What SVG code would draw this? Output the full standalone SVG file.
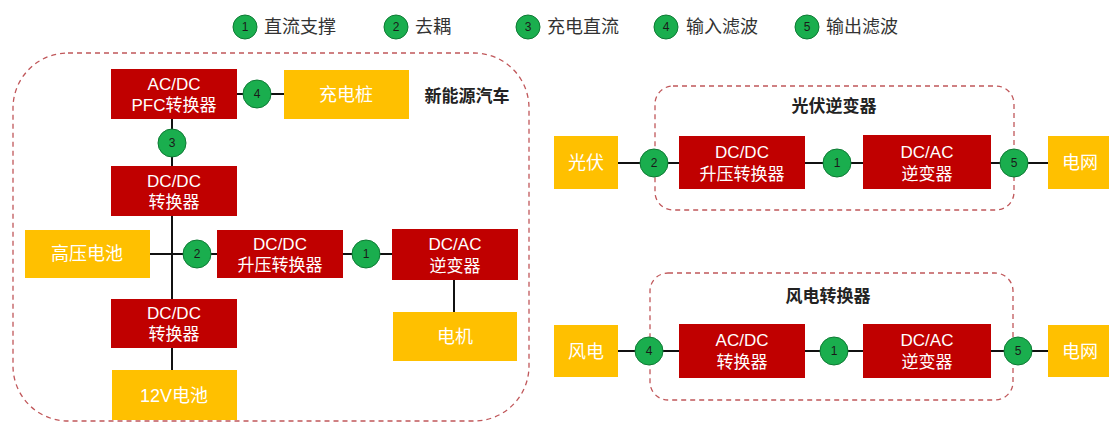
<svg xmlns="http://www.w3.org/2000/svg" width="1109" height="424" viewBox="0 0 1109 424">
<style>
text{font-family:"Liberation Sans","Noto Sans CJK SC",sans-serif}
.r{fill:#C00000}
.y{fill:#FFC000}
.bt{fill:#fff;font-size:17px;text-anchor:middle}
.yt{fill:#fff;font-size:18px;text-anchor:middle}
.c{fill:#1AAE4E;stroke:#0E7A34;stroke-width:1}
.ct{fill:#1a1a1a;font-size:12px;text-anchor:middle}
.grp{fill:none;stroke:#C0575A;stroke-width:1.3;stroke-dasharray:5,4}
.gt{fill:#222;font-size:17px;font-weight:bold;text-anchor:middle}
.lt{fill:#333;font-size:18px}
.ln{stroke:#111;stroke-width:2;fill:none}
</style>
<rect width="1109" height="424" fill="#fff"/>
<g id="legend">
<circle class="c" cx="245" cy="27" r="12"/><text class="ct" x="245" y="31">1</text><text class="lt" x="264" y="33">直流支撑</text>
<circle class="c" cx="396" cy="27" r="12"/><text class="ct" x="396" y="31">2</text><text class="lt" x="415" y="33">去耦</text>
<circle class="c" cx="528" cy="27" r="12"/><text class="ct" x="528" y="31">3</text><text class="lt" x="547" y="33">充电直流</text>
<circle class="c" cx="666" cy="27" r="12"/><text class="ct" x="666" y="31">4</text><text class="lt" x="686" y="33">输入滤波</text>
<circle class="c" cx="807" cy="27" r="12"/><text class="ct" x="807" y="31">5</text><text class="lt" x="826" y="33">输出滤波</text>
</g>
<g id="groups">
<rect class="grp" x="13" y="53" width="516" height="368" rx="55"/>
<text class="gt" x="467" y="102">新能源汽车</text>
<rect class="grp" x="655" y="86" width="359" height="124" rx="18"/>
<text class="gt" x="834" y="112">光伏逆变器</text>
<rect class="grp" x="650" y="273" width="363" height="127" rx="18"/>
<text class="gt" x="828" y="302">风电转换器</text>
</g>
<g id="connectors">
<line class="ln" x1="237" y1="94" x2="284" y2="94"/>
<line class="ln" x1="172" y1="119" x2="172" y2="166"/>
<line class="ln" x1="172" y1="216" x2="172" y2="299"/>
<line class="ln" x1="150" y1="254" x2="217" y2="254"/>
<line class="ln" x1="343" y1="254" x2="392" y2="254"/>
<line class="ln" x1="454" y1="280" x2="454" y2="312"/>
<line class="ln" x1="172" y1="348" x2="172" y2="370"/>
<line class="ln" x1="618" y1="163" x2="679" y2="163"/>
<line class="ln" x1="805" y1="163" x2="863" y2="163"/>
<line class="ln" x1="991" y1="163" x2="1048" y2="163"/>
<line class="ln" x1="618" y1="351" x2="679" y2="351"/>
<line class="ln" x1="805" y1="351" x2="863" y2="351"/>
<line class="ln" x1="991" y1="351" x2="1048" y2="351"/>
</g>
<g id="n-acdc-pfc"><rect class="r" x="111" y="69" width="126" height="50"/><text class="bt" x="174" y="90">AC/DC</text><text class="bt" x="174" y="111">PFC转换器</text></g>
<g id="n-charger"><rect class="y" x="284" y="70" width="125" height="49"/><text class="yt" x="346" y="101">充电桩</text></g>
<g id="n-dcdc1"><rect class="r" x="111" y="166" width="126" height="50"/><text class="bt" x="174" y="187">DC/DC</text><text class="bt" x="174" y="208">转换器</text></g>
<g id="n-hvbat"><rect class="y" x="25" y="230" width="125" height="48"/><text class="yt" x="87" y="260">高压电池</text></g>
<g id="n-boost1"><rect class="r" x="217" y="230" width="126" height="48"/><text class="bt" x="280" y="250">DC/DC</text><text class="bt" x="280" y="271">升压转换器</text></g>
<g id="n-inv1"><rect class="r" x="392" y="229" width="126" height="51"/><text class="bt" x="455" y="250">DC/AC</text><text class="bt" x="455" y="272">逆变器</text></g>
<g id="n-motor"><rect class="y" x="393" y="312" width="124" height="49"/><text class="yt" x="455" y="343">电机</text></g>
<g id="n-dcdc2"><rect class="r" x="111" y="299" width="126" height="49"/><text class="bt" x="174" y="319">DC/DC</text><text class="bt" x="174" y="340">转换器</text></g>
<g id="n-12v"><rect class="y" x="112" y="370" width="125" height="50"/><text class="yt" x="174" y="402">12V电池</text></g>
<g id="n-pv"><rect class="y" x="554" y="136" width="64" height="53"/><text class="yt" x="586" y="169">光伏</text></g>
<g id="n-boost2"><rect class="r" x="679" y="136" width="126" height="53"/><text class="bt" x="742" y="158">DC/DC</text><text class="bt" x="742" y="180">升压转换器</text></g>
<g id="n-inv2"><rect class="r" x="863" y="135" width="128" height="54"/><text class="bt" x="927" y="158">DC/AC</text><text class="bt" x="927" y="180">逆变器</text></g>
<g id="n-grid1"><rect class="y" x="1048" y="136" width="65" height="53"/><text class="yt" x="1080" y="169">电网</text></g>
<g id="n-wind"><rect class="y" x="554" y="325" width="64" height="52"/><text class="yt" x="586" y="358">风电</text></g>
<g id="n-acdc2"><rect class="r" x="679" y="324" width="126" height="54"/><text class="bt" x="742" y="346">AC/DC</text><text class="bt" x="742" y="368">转换器</text></g>
<g id="n-inv3"><rect class="r" x="863" y="324" width="128" height="54"/><text class="bt" x="927" y="346">DC/AC</text><text class="bt" x="927" y="368">逆变器</text></g>
<g id="n-grid2"><rect class="y" x="1048" y="325" width="65" height="52"/><text class="yt" x="1080" y="358">电网</text></g>
<g id="badges">
<circle class="c" cx="257" cy="94" r="14"/><text class="ct" x="257" y="98">4</text>
<circle class="c" cx="172" cy="143" r="14"/><text class="ct" x="172" y="147">3</text>
<circle class="c" cx="197" cy="254" r="14"/><text class="ct" x="197" y="258">2</text>
<circle class="c" cx="366" cy="254" r="14"/><text class="ct" x="366" y="258">1</text>
<circle class="c" cx="654" cy="163" r="14"/><text class="ct" x="654" y="167">2</text>
<circle class="c" cx="837" cy="163" r="14"/><text class="ct" x="837" y="167">1</text>
<circle class="c" cx="1014" cy="163" r="14"/><text class="ct" x="1014" y="167">5</text>
<circle class="c" cx="649" cy="351" r="14"/><text class="ct" x="649" y="355">4</text>
<circle class="c" cx="834" cy="351" r="14"/><text class="ct" x="834" y="355">1</text>
<circle class="c" cx="1018" cy="351" r="14"/><text class="ct" x="1018" y="355">5</text>
</g>
</svg>
